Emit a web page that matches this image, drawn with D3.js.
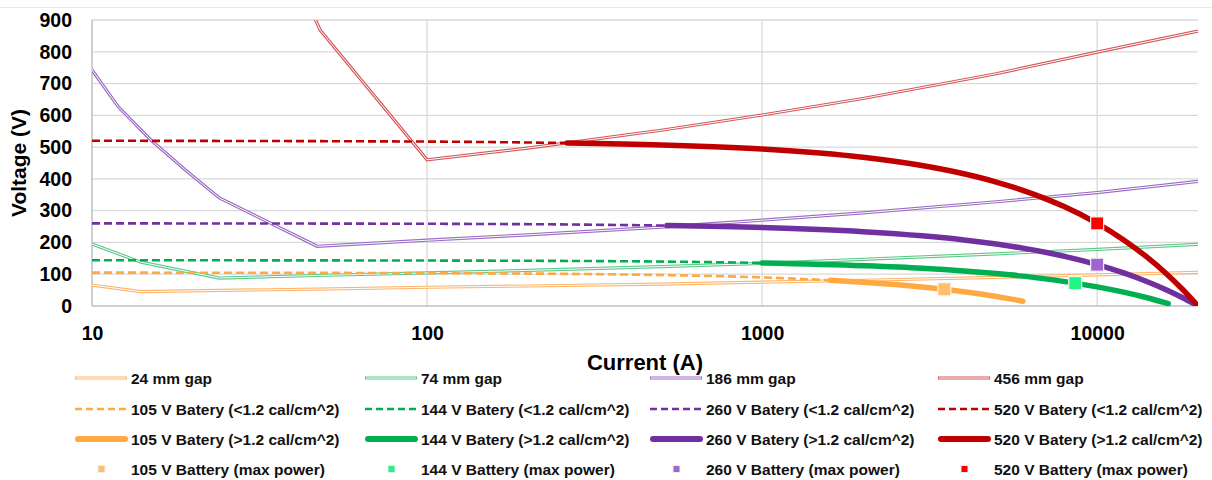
<html>
<head>
  <script src="https://d3js.org/d3.v7.min.js"></script>
  <style>
    body {
      margin: 0;
      background-color: #fff;
      font-family: "Liberation Sans", Arial, sans-serif;
    }
    .grid line {
      stroke: #d9d9d9;
      stroke-width: 1.3px;
    }
    .axis .domain {
      stroke: #bfbfbf;
      stroke-width: 1.5px;
    }
    .axis .tick line {
      display: none;
    }
    .axis text {
      font-family: "Liberation Sans", Arial, sans-serif;
      font-weight: bold;
      font-size: 19.5px;
      fill: #000;
    }
    .legend text {
      font-family: "Liberation Sans", Arial, sans-serif;
      font-weight: bold;
      font-size: 15.5px;
      fill: #111;
    }
  </style>
</head>
<body>
  <svg width="1212" height="480"></svg>

  <script>
    // tick values
    var xTicks = [10, 100, 1000, 10000];
    var yTicks = [0, 100, 200, 300, 400, 500, 600, 700, 800, 900];

    // arc voltage for each gap, [current A, voltage V]
    var gap24 = [[10, 66], [14, 45], [24, 49], [47, 53], [100, 59], [200, 63], [500, 69], [1000, 75],
                 [2000, 81], [5000, 90], [10000, 98], [20000, 106]];
    var gap74 = [[10, 195], [14, 138], [24, 88], [47, 96], [100, 104], [200, 112], [500, 124], [1000, 134],
                 [2000, 147], [5000, 164], [10000, 178], [20000, 194]];
    var gap186 = [[10, 743], [12, 626], [15, 522], [19, 428], [24, 340], [47, 188], [100, 207], [200, 224],
                  [500, 248], [1000, 270], [2000, 293], [5000, 328], [10000, 357], [20000, 392]];
    var gap456 = [[35, 1180], [48, 868], [100, 460], [200, 497], [500, 553], [1000, 601], [2000, 653],
                  [5000, 731], [10000, 799], [20000, 865]];

    // battery load lines below 1.2 cal/cm^2
    var bat105Low = [[10, 105], [100, 103.5], [300, 100.5], [600, 96], [1000, 90], [1600, 81]];
    var bat144Low = [[10, 144], [100, 143], [300, 141.5], [600, 139], [1000, 135.6]];
    var bat260Low = [[10, 260], [100, 258.7], [300, 256], [520, 253]];
    var bat520Low = [[10, 520], [100, 517.4], [262, 513]];

    // battery load lines above 1.2 cal/cm^2
    var bat105High = [[1600, 81], [2000, 75], [2500, 67.5], [3000, 60], [3500, 52.5], [4000, 45],
                      [4500, 37.5], [5000, 30], [5500, 22.5], [6000, 15]];
    var bat144High = [[1000, 135.6], [2000, 127], [3000, 119], [4000, 110.5], [5000, 102], [6000, 94],
                      [7000, 85.4], [8600, 72], [10000, 60.3], [12000, 43.5], [14000, 26.8], [16300, 7.5]];
    var bat260High = [[520, 253], [1000, 247], [2000, 234], [3000, 221], [4000, 208], [5000, 195],
                      [6000, 182], [7000, 169], [8000, 156], [10000, 130], [12000, 104], [14000, 78],
                      [16000, 52], [18000, 26], [20000, 0]];
    var bat520High = [[262, 513], [500, 507], [1000, 494], [2000, 468], [3000, 442], [4000, 416],
                      [5000, 390], [6000, 364], [7000, 338], [8000, 312], [10000, 260], [12000, 208],
                      [14000, 156], [16000, 104], [18000, 52], [20000, 0]];

    // max power points
    var bat105Max = [[3500, 52.5]];
    var bat144Max = [[8600, 72]];
    var bat260Max = [[10000, 130]];
    var bat520Max = [[10000, 260]];

    var gapNames = ["24 mm gap", "74 mm gap", "186 mm gap", "456 mm gap"];
    var batNames = ["105 V", "144 V", "260 V", "520 V"];

    var gapColors = ["#fdb46a", "#5cc98a", "#9a6cc4", "#d4585a"];
    var batColors = ["#ffa940", "#00b050", "#7030a0", "#c00000"];
    var maxColors = ["#ffbf6a", "#22f585", "#a066d0", "#ff0000"];

    var gaps = [gap24, gap74, gap186, gap456];
    var lows = [bat105Low, bat144Low, bat260Low, bat520Low];
    var highs = [bat105High, bat144High, bat260High, bat520High];
    var maxes = [bat105Max, bat144Max, bat260Max, bat520Max];

    var svg = d3.select("svg"),
        margin = {top: 20, right: 14, bottom: 174, left: 92},
        width = +svg.attr("width") - margin.left - margin.right,
        height = +svg.attr("height") - margin.top - margin.bottom,
        g = svg.append("g").attr("transform", "translate(" + margin.left + "," + margin.top + ")");

    // faint frame line on top
    svg.append("line")
        .attr("x1", 0).attr("x2", 1212)
        .attr("y1", 7.5).attr("y2", 7.5)
        .attr("stroke", "#e8e8e8");

    var x = d3.scaleLog()
        .domain([10, 20000])
        .range([0, width]);

    var y = d3.scaleLinear()
        .domain([0, 900])
        .range([height, 0]);

    svg.append("defs").append("clipPath")
        .attr("id", "plot")
      .append("rect")
        .attr("x", 0).attr("y", 0)
        .attr("width", width).attr("height", height);

    // gridlines
    g.append("g")
        .attr("class", "grid")
      .selectAll("line")
      .data(yTicks.slice(1))
      .enter().append("line")
        .attr("x1", 0).attr("x2", width)
        .attr("y1", function(d) { return y(d); })
        .attr("y2", function(d) { return y(d); });

    g.append("g")
        .attr("class", "grid")
      .selectAll("line")
      .data(xTicks.slice(1))
      .enter().append("line")
        .attr("y1", 0).attr("y2", height)
        .attr("x1", function(d) { return x(d); })
        .attr("x2", function(d) { return x(d); });

    g.append("g")
        .attr("class", "axis axis--x")
        .attr("transform", "translate(0," + height + ")")
        .call(d3.axisBottom(x).tickValues(xTicks).tickFormat(d3.format("d")).tickSize(0).tickPadding(20))
        .call(function(a) { a.select(".domain").attr("d", "M0,0H" + width); });

    g.append("g")
        .attr("class", "axis axis--y")
        .call(d3.axisLeft(y).tickValues(yTicks).tickSize(0).tickPadding(20))
        .call(function(a) { a.select(".domain").attr("d", "M0,0V" + height); });

    svg.append("text")
        .attr("transform", "translate(26," + (margin.top + height / 2 + 0) + ") rotate(-90)")
        .attr("text-anchor", "middle")
        .style("font-weight", "bold")
        .style("font-size", "21px")
        .text("Voltage (V)");

    svg.append("text")
        .attr("x", 645)
        .attr("y", 370)
        .attr("text-anchor", "middle")
        .style("font-weight", "bold")
        .style("font-size", "22px")
        .text("Current (A)");

    var line = d3.line()
        .x(function(d) { return x(d[0]); })
        .y(function(d) { return y(d[1]); });

    var smooth = d3.line()
        .curve(d3.curveMonotoneX)
        .x(function(d) { return x(d[0]); })
        .y(function(d) { return y(d[1]); });

    var plot = g.append("g").attr("clip-path", "url(#plot)");

    // double lines for the gaps
    gaps.forEach(function(data, i) {
      plot.append("path").datum(data)
          .attr("d", line)
          .attr("fill", "none")
          .attr("stroke", gapColors[i])
          .attr("stroke-width", 3.2);
      plot.append("path").datum(data)
          .attr("d", line)
          .attr("fill", "none")
          .attr("stroke", "#fff")
          .attr("stroke-width", 1);
    });

    lows.forEach(function(data, i) {
      plot.append("path").datum(data)
          .attr("d", smooth)
          .attr("fill", "none")
          .attr("stroke", batColors[i])
          .attr("stroke-width", 2.6)
          .attr("stroke-dasharray", "8,4");
    });

    highs.forEach(function(data, i) {
      plot.append("path").datum(data)
          .attr("d", smooth)
          .attr("fill", "none")
          .attr("stroke", batColors[i])
          .attr("stroke-width", 5.5)
          .attr("stroke-linecap", "round");
    });

    maxes.forEach(function(data, i) {
      plot.selectAll(null).data(data)
        .enter().append("rect")
          .attr("x", function(d) { return x(d[0]) - 6.5; })
          .attr("y", function(d) { return y(d[1]) - 6.5; })
          .attr("width", 13).attr("height", 13)
          .attr("fill", maxColors[i])
          .attr("stroke", "#f2f2f2")
          .attr("stroke-width", 1.2);
    });

    // legend
    var legX = [75, 365, 650, 938],
        legY = [378, 409, 439, 469];

    var legend = svg.append("g").attr("class", "legend");

    for (var i = 0; i < 4; i++) {
      var lx = legX[i];

      legend.append("line")
          .attr("x1", lx).attr("x2", lx + 52).attr("y1", legY[0]).attr("y2", legY[0])
          .attr("stroke", gapColors[i]).attr("stroke-width", 3.2);
      legend.append("line")
          .attr("x1", lx + 1).attr("x2", lx + 51).attr("y1", legY[0]).attr("y2", legY[0])
          .attr("stroke", "#fff").attr("stroke-width", 1);
      legend.append("text").attr("x", lx + 56).attr("y", legY[0] + 5.5).text(gapNames[i]);

      legend.append("line")
          .attr("x1", lx).attr("x2", lx + 52).attr("y1", legY[1]).attr("y2", legY[1])
          .attr("stroke", batColors[i]).attr("stroke-width", 2.6).attr("stroke-dasharray", "7,4");
      legend.append("text").attr("x", lx + 56).attr("y", legY[1] + 5.5)
          .text(batNames[i] + " Batery (<1.2 cal/cm^2)");

      legend.append("line")
          .attr("x1", lx + 3).attr("x2", lx + 50).attr("y1", legY[2]).attr("y2", legY[2])
          .attr("stroke", batColors[i]).attr("stroke-width", 6).attr("stroke-linecap", "round");
      legend.append("text").attr("x", lx + 56).attr("y", legY[2] + 5.5)
          .text(batNames[i] + " Batery (>1.2 cal/cm^2)");

      legend.append("rect")
          .attr("x", lx + 23).attr("y", legY[3] - 3.5).attr("width", 7).attr("height", 7)
          .attr("fill", maxColors[i]).attr("stroke", "#eee");
      legend.append("text").attr("x", lx + 56).attr("y", legY[3] + 5.5)
          .text(batNames[i] + " Battery (max power)");
    }
  </script>
</body>
</html>
